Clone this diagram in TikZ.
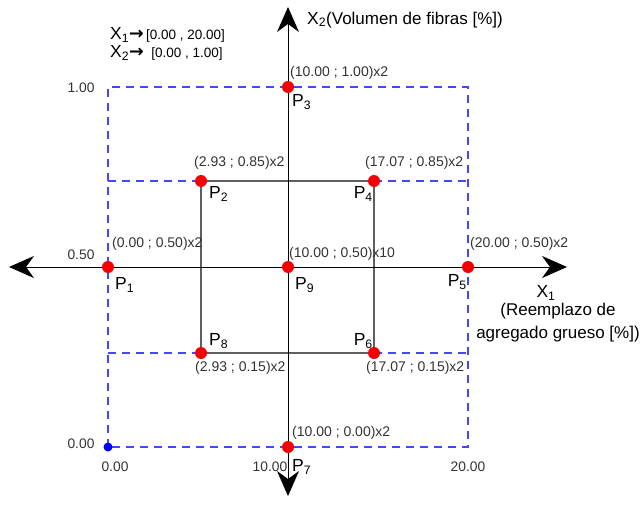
\documentclass[tikz,border=0pt]{standalone}
\usepackage{fontspec}
\setmainfont{Liberation Sans}
\newfontfamily\arrowfont{DejaVu Sans}
\usetikzlibrary{arrows.meta,positioning}
\definecolor{boxblue}{RGB}{70,70,250}
\definecolor{ptred}{RGB}{245,0,0}
\definecolor{sqgray}{RGB}{95,95,95}

\begin{document}
\begin{tikzpicture}[
    x=1pt, y=-1pt,
    axes/.style={{Stealth[length=25pt, width=22pt, inset=8pt]}-{Stealth[length=25pt, width=22pt, inset=8pt]}, line width=1pt, black},
    limits/.style={draw=boxblue, line width=1.3pt, dash pattern=on 8pt off 6pt},
    square/.style={draw=sqgray, line width=1.6pt},
    pt/.style={circle, fill=ptred, inner sep=0pt, minimum size=12pt},
    org/.style={circle, fill=blue, inner sep=0pt, minimum size=9pt},
    coordlbl/.style={font=\fontsize{14}{16}\selectfont, text=black!80, inner sep=0pt},
    ptlbl/.style={font=\fontsize{17.5}{20}\selectfont, inner sep=0pt},
    ticklbl/.style={font=\fontsize{13.8}{16}\selectfont, text=black!80, inner sep=0pt}
]
    \useasboundingbox (0,0) rectangle (642,524);

    % design points
    \coordinate (p1) at (108,267);
    \coordinate (p2) at (201,181);
    \coordinate (p3) at (288,87);
    \coordinate (p4) at (374,181);
    \coordinate (p5) at (468,267);
    \coordinate (p6) at (374,353);
    \coordinate (p7) at (288,447);
    \coordinate (p8) at (201,353);
    \coordinate (p9) at (288,267);
    \coordinate (o) at (108,447);

    % axis ends
    \coordinate (xl) at (9,267);
    \coordinate (xr) at (567,267);
    \coordinate (yt) at (288,7);
    \coordinate (yb) at (288,496);

    % limits of the region
    \draw[limits] (o) rectangle (p3 -| p5);
    \draw[limits] (p2 -| p1) -- (p2);
    \draw[limits] (p4) -- (p4 -| p5);
    \draw[limits] (p8 -| p1) -- (p8);
    \draw[limits] (p6) -- (p6 -| p5);

    % factorial square
    \draw[square] (p2) rectangle (p6);

    % axes
    \draw[axes] (xl) -- (xr);
    \draw[axes] (yt) -- (yb);

    % points
    \foreach \i in {1,...,9} \node[pt] (n\i) at (p\i) {};
    \node[org] (n0) at (o) {};

    % point names
    \node[ptlbl, anchor=west] (l1) at (115,285) {P\textsubscript{1}};
    \node[ptlbl, anchor=west] (l2) at (209,194) {P\textsubscript{2}};
    \node[ptlbl, anchor=west] (l3) at (292,102) {P\textsubscript{3}};
    \node[ptlbl, anchor=east] (l4) at (373,194) {P\textsubscript{4}};
    \node[ptlbl, anchor=east] (l5) at (467,282) {P\textsubscript{5}};
    \node[ptlbl, anchor=east] (l6) at (373,341) {P\textsubscript{6}};
    \node[ptlbl, anchor=west] (l7) at (292,467) {P\textsubscript{7}};
    \node[ptlbl, anchor=west] (l8) at (209,341) {P\textsubscript{8}};
    \node[ptlbl, anchor=west] (l9) at (295,285) {P\textsubscript{9}};

    % coordinates of the points
    \node[coordlbl, anchor=west] (c1) at (112,244) {(0.00 ; 0.50)x2};
    \node[coordlbl, anchor=west] (c2) at (194,163) {(2.93 ; 0.85)x2};
    \node[coordlbl, anchor=west] (c3) at (290,73) {(10.00 ; 1.00)x2};
    \node[coordlbl, anchor=west] (c4) at (365,163) {(17.07 ; 0.85)x2};
    \node[coordlbl, anchor=west] (c5) at (470,244) {(20.00 ; 0.50)x2};
    \node[coordlbl, anchor=west] (c6) at (366,368) {(17.07 ; 0.15)x2};
    \node[coordlbl, anchor=west] (c7) at (292,433) {(10.00 ; 0.00)x2};
    \node[coordlbl, anchor=west] (c8) at (195,368) {(2.93 ; 0.15)x2};
    \node[coordlbl, anchor=west] (c9) at (289,254) {(10.00 ; 0.50)x10};

    % tick values
    \node[ticklbl] (t1) at (81,88) {1.00};
    \node[ticklbl] (t2) at (81,255) {0.50};
    \node[ticklbl] (t3) at (81,444) {0.00};
    \node[ticklbl] (t4) at (115,467) {0.00};
    \node[ticklbl] (t5) at (270,467) {10.00};
    \node[ticklbl] (t6) at (468,467) {20.00};

    % axis titles
    \node[ptlbl, anchor=west] (x2) at (307,20) {X\textsubscript{2}\fontsize{17}{20}\selectfont(Volumen de fibras [\%])};
    \node[ptlbl] (x1) at (546,293) {X\textsubscript{1}};
    \node[align=center, font=\fontsize{17}{23}\selectfont, anchor=north] (x1t) at (558,300)
        {(Reemplazo de\\agregado grueso [\%])};

    % ranges
    \node[ptlbl, anchor=west] (r1) at (110,35)
        {X\textsubscript{1}{\arrowfont\bfseries →}{\fontsize{13.5}{16}\selectfont\,[0.00 , 20.00]}};
    \node[ptlbl, anchor=west] (r2) at (110,53)
        {X\textsubscript{2}{\arrowfont\bfseries →}{\fontsize{13.5}{16}\selectfont\ \ [0.00 , 1.00]}};
\end{tikzpicture}
\end{document}
